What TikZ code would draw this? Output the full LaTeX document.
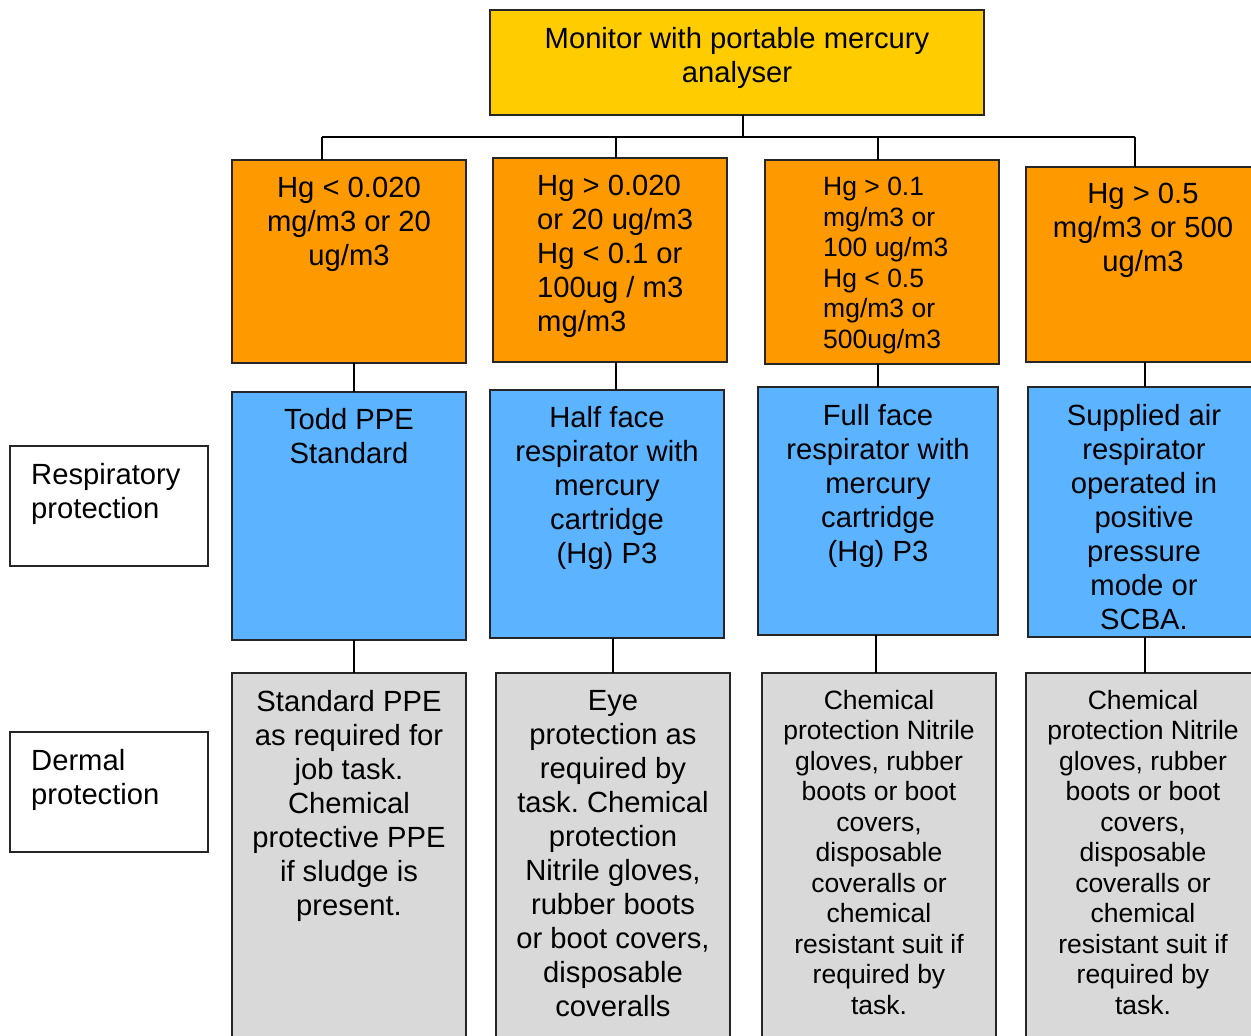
\documentclass[tikz,border=0pt]{standalone}
\usepackage{fontspec}
\setmainfont{Liberation Sans}
\frenchspacing
\definecolor{cyel}{HTML}{FFCC00}
\definecolor{corg}{HTML}{FF9900}
\definecolor{cblu}{HTML}{5CB3FF}
\definecolor{cgry}{HTML}{D9D9D9}
\tikzset{
  box/.style={draw=black!85, line width=1.1pt, inner sep=0pt, outer sep=0pt, anchor=north west},
  bigtxt/.style={font=\fontsize{29.2}{34}\selectfont, inner sep=0pt, align=center, anchor=north},
  smalltxt/.style={font=\fontsize{26.5}{30.5}\selectfont, inner sep=0pt, align=center, anchor=north},
  conn/.style={line width=1.3pt, black}
}
\begin{document}
\begin{tikzpicture}[x=1pt,y=-1pt]
\useasboundingbox (0,0) rectangle (1251,1036);
\clip (0,0) rectangle (1251,1036);
% boxes
\node[box, fill=cyel, minimum width=494, minimum height=105] (T) at (490,10) {};
\node[box, fill=corg, minimum width=234, minimum height=203] (O1) at (232,160) {};
\node[box, fill=corg, minimum width=234, minimum height=204] (O2) at (493,158) {};
\node[box, fill=corg, minimum width=234, minimum height=204] (O3) at (765,160) {};
\node[box, fill=corg, minimum width=234, minimum height=195] (O4) at (1026,167) {};
\node[box, fill=cblu, minimum width=234, minimum height=248] (B1) at (232,392) {};
\node[box, fill=cblu, minimum width=234, minimum height=248] (B2) at (490,390) {};
\node[box, fill=cblu, minimum width=240, minimum height=248] (B3) at (758,387) {};
\node[box, fill=cblu, minimum width=234, minimum height=250] (B4) at (1028,387) {};
\node[box, fill=cgry, minimum width=234, minimum height=400] (G1) at (232,673) {};
\node[box, fill=cgry, minimum width=234, minimum height=400] (G2) at (496,673) {};
\node[box, fill=cgry, minimum width=234, minimum height=400] (G3) at (762,673) {};
\node[box, fill=cgry, minimum width=234, minimum height=400] (G4) at (1026,673) {};
\node[box, fill=white, minimum width=198, minimum height=120] (L1) at (10,446) {};
\node[box, fill=white, minimum width=198, minimum height=120] (L2) at (10,732) {};
% texts
\node[bigtxt] (tT) at (737,27) {Monitor with portable mercury\\analyser};
\node[bigtxt] (tO1) at (349,177) {Hg < 0.020\\mg/m3 or 20\\ug/m3};
\node[bigtxt, align=left, anchor=north west] (tO2) at (537,175) {Hg > 0.020\\or 20 ug/m3\\Hg < 0.1 or\\100ug / m3\\mg/m3};
\node[smalltxt, align=left, anchor=north west] (tO3) at (823,177) {Hg > 0.1\\mg/m3 or\\100 ug/m3\\Hg < 0.5\\mg/m3 or\\500ug/m3};
\node[bigtxt] (tO4) at (1143,183) {Hg > 0.5\\mg/m3 or 500\\ug/m3};
\node[bigtxt] (tB1) at (349,408) {Todd PPE\\Standard};
\node[bigtxt] (tB2) at (607,406) {Half face\\respirator with\\mercury\\cartridge\\(Hg) P3};
\node[bigtxt] (tB3) at (878,404) {Full face\\respirator with\\mercury\\cartridge\\(Hg) P3};
\node[bigtxt] (tB4) at (1144,404) {Supplied air\\respirator\\operated in\\positive\\pressure\\mode or\\SCBA.};
\node[bigtxt] (tG1) at (349,690) {Standard PPE\\as required for\\job task.\\Chemical\\protective PPE\\if sludge is\\present.};
\node[bigtxt] (tG2) at (613,690) {Eye\\protection as\\required by\\task. Chemical\\protection\\Nitrile gloves,\\rubber boots\\or boot covers,\\disposable\\coveralls};
\node[smalltxt] (tG3) at (879,690) {Chemical\\protection Nitrile\\gloves, rubber\\boots or boot\\covers,\\disposable\\coveralls or\\chemical\\resistant suit if\\required by\\task.};
\node[smalltxt] (tG4) at (1143,690) {Chemical\\protection Nitrile\\gloves, rubber\\boots or boot\\covers,\\disposable\\coveralls or\\chemical\\resistant suit if\\required by\\task.};
\node[bigtxt, align=left, anchor=north west] (tL1) at (31,463) {Respiratory\\protection};
\node[bigtxt, align=left, anchor=north west] (tL2) at (31,749) {Dermal\\protection};
% connectors
\coordinate (busL) at (322,137);
\coordinate (busR) at (1135,137);
\draw[conn] (T.south -| 743,0) -- (743,137);
\draw[conn] (busL) -- (busR);
\draw[conn] (busL) -- (busL |- O1.north);
\draw[conn] (O2.north -| 616,0) -- (616,137);
\draw[conn] (O3.north -| 878,0) -- (878,137);
\draw[conn] (busR) -- (busR |- O4.north);
\draw[conn] (O1.south -| 354,0) -- (B1.north -| 354,0);
\draw[conn] (O2.south -| 616,0) -- (B2.north -| 616,0);
\draw[conn] (O3.south -| 878,0) -- (B3.north -| 878,0);
\draw[conn] (O4.south -| 1145,0) -- (B4.north -| 1145,0);
\draw[conn] (B1.south -| 354,0) -- (G1.north -| 354,0);
\draw[conn] (B2.south -| 613,0) -- (G2.north -| 613,0);
\draw[conn] (B3.south -| 876,0) -- (G3.north -| 876,0);
\draw[conn] (B4.south -| 1145,0) -- (G4.north -| 1145,0);
\end{tikzpicture}
\end{document}
